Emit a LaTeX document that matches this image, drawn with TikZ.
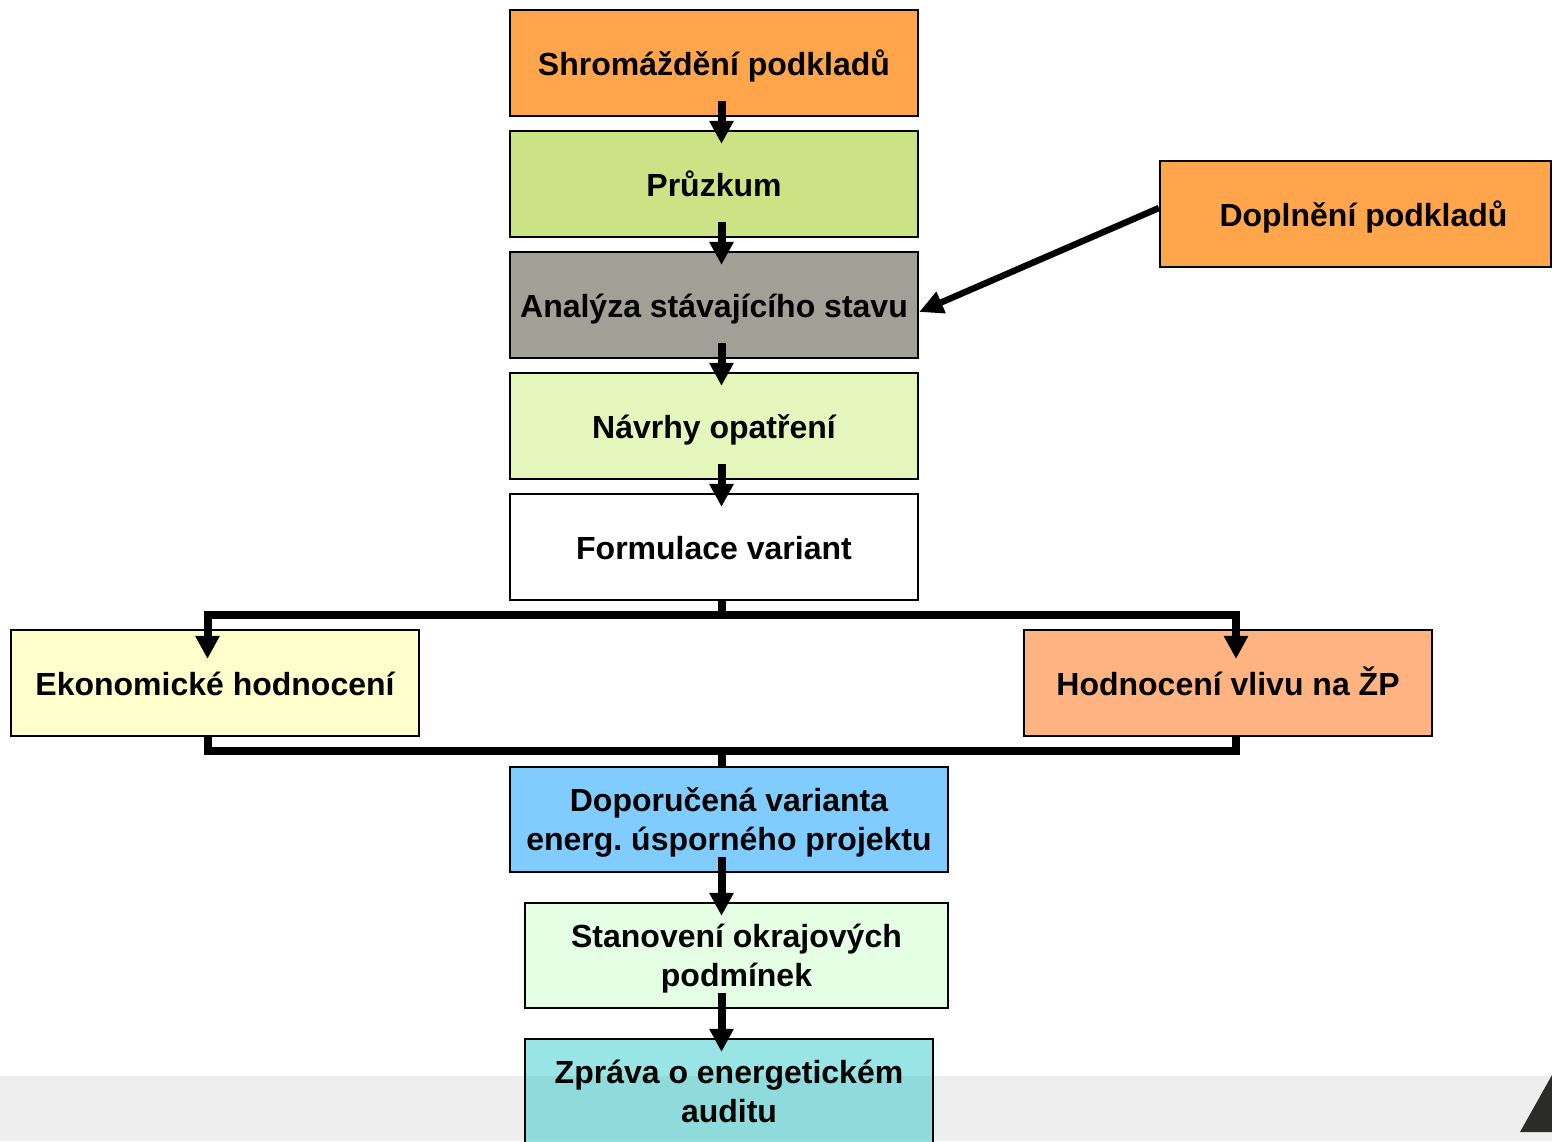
\documentclass[tikz,border=0pt]{standalone}
\usepackage{fontspec}
\setmainfont{Liberation Sans}
\frenchspacing
\usetikzlibrary{arrows.meta,calc}
\definecolor{cOrange}{HTML}{FFA64D}
\definecolor{cGreen}{HTML}{CCE285}
\definecolor{cGray}{HTML}{A0A096}
\definecolor{cLime}{HTML}{E5F6BD}
\definecolor{cYellow}{HTML}{FFFFCC}
\definecolor{cSalmon}{HTML}{FFB380}
\definecolor{cBlue}{HTML}{80CCFF}
\definecolor{cMint}{HTML}{E5FFE5}
\definecolor{cCyan}{RGB}{29,198,198}
\definecolor{cBand}{HTML}{EEEEEE}
\definecolor{cTri}{HTML}{2B2B29}
\begin{document}
\begin{tikzpicture}[x=0.5pt,y=-0.5pt,
  box/.style={draw=black,line width=1.1pt,inner sep=0pt,align=center,
    font=\bfseries\fontsize{16}{19.5}\selectfont},
  oneline/.style={text height=15pt,text depth=3pt},
  twoline/.style={text depth=0pt},
  w408/.style={minimum width=204pt,minimum height=53pt},
  conn/.style={line width=4pt,line join=miter},
  arr/.style={conn,-{Triangle[width=11.5pt,length=11.5pt]}},
  arrd/.style={line width=3.2pt,-{Triangle[width=11pt,length=12pt]}}]
\clip (0,0) rectangle (1552,1141);
\fill[white] (0,0) rectangle (1552,1141);
\fill[cBand] (0,1076) rectangle (1552,1141);
\fill[cTri] (1520,1132) -- (1552,1075) -- (1552,1132) -- cycle;
% boxes
\node[box,oneline,w408,fill=cOrange] (sh) at (714,63) {Shromáždění podkladů};
\node[box,oneline,w408,fill=cGreen] (pr) at (714,184) {Průzkum};
\node[box,oneline,w408,fill=cGray] (an) at (714,305) {Analýza stávajícího stavu};
\node[box,oneline,w408,fill=cLime] (na) at (714,426) {Návrhy opatření};
\node[box,oneline,w408,fill=white] (fo) at (714,547) {Formulace variant};
\node[box,oneline,fill=cOrange,minimum width=195.5pt,minimum height=53pt] (dp) at (1355.5,214) {\hspace*{8pt}Doplnění podkladů};
\node[box,oneline,w408,fill=cYellow] (ek) at (215,683) {Ekonomické hodnocení};
\node[box,oneline,w408,fill=cSalmon] (ho) at (1228,683) {Hodnocení vlivu na ŽP};
\node[box,twoline,fill=cBlue,minimum width=219pt,minimum height=52.5pt] (dv) at (729,819.5) {Doporučená varianta\\energ. úsporného projektu};
\node[box,twoline,fill=cMint,minimum width=211.5pt,minimum height=52.5pt] (st) at (736.5,955.5) {Stanovení okrajových\\podmínek};
\node[box,twoline,fill=cCyan,fill opacity=0.45,text opacity=1,minimum width=204pt,minimum height=52.5pt] (zp) at (729,1091.5) {Zpráva o energetickém\\auditu};
% spine
\coordinate (sp) at (721.5,0);
\coordinate (bt) at (721.5,615);
\coordinate (bb) at (721.5,751);
% vertical arrows
\draw[arr] ([yshift=8pt]sh.south -| sp) -- ([yshift=-7pt]pr.north -| sp);
\draw[arr] ([yshift=8pt]pr.south -| sp) -- ([yshift=-7pt]an.north -| sp);
\draw[arr] ([yshift=8pt]an.south -| sp) -- ([yshift=-7pt]na.north -| sp);
\draw[arr] ([yshift=8pt]na.south -| sp) -- ([yshift=-7pt]fo.north -| sp);
\draw[arr] ([yshift=8pt]dv.south -| sp) -- ([yshift=-7pt]st.north -| sp);
\draw[arr] ([yshift=8pt]st.south -| sp) -- ([yshift=-7pt]zp.north -| sp);
% diagonal
\draw[arrd] ([yshift=3pt]dp.west) -- ([yshift=-3.5pt]an.east);
% top bracket
\draw[conn] (fo.south -| sp) -- (bt);
\draw[arr] (bt) -| ([xshift=-3.75pt,yshift=-15pt]ek.north);
\draw[arr] (bt) -| ([xshift=4pt,yshift=-15pt]ho.north);
% bottom bracket
\draw[conn] ([xshift=-3.75pt]ek.south) |- (bb) -| ([xshift=4pt]ho.south);
\draw[conn] (bb) -- (dv.north -| bb);
\end{tikzpicture}
\end{document}
